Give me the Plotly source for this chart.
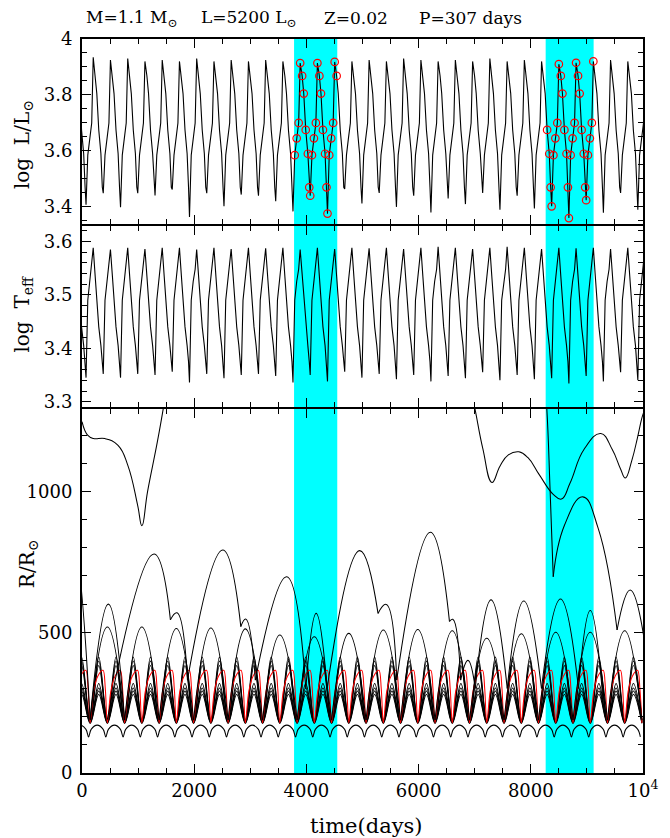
import plotly.graph_objects as go

# ---------------- data ----------------
# times (days) of the luminosity maxima (P = 307 d), incl. one before t=0 and one after 10^4
peak_times = [-107, 200, 507, 815, 1122, 1430, 1737, 2044, 2352, 2659, 2967, 3274, 3581,
              3889, 4196, 4504, 4811, 5118, 5426, 5733, 6041, 6348, 6655, 6963, 7270,
              7578, 7885, 8192, 8500, 8807, 9115, 9422, 9729, 10036]
logL_peak = [3.92, 3.935, 3.925, 3.93, 3.92, 3.925, 3.92, 3.93, 3.92, 3.925, 3.92, 3.925,
             3.92, 3.914, 3.914, 3.918, 3.92, 3.925, 3.92, 3.93, 3.925, 3.92, 3.925, 3.92,
             3.93, 3.92, 3.925, 3.92, 3.91, 3.915, 3.92, 3.925, 3.92, 3.92]
logL_min = [3.42, 3.408, 3.449, 3.399, 3.449, 3.441, 3.462, 3.364, 3.449, 3.402, 3.444,
            3.44, 3.42, 3.384, 3.44, 3.376, 3.464, 3.412, 3.45, 3.40, 3.44, 3.38, 3.43,
            3.41, 3.45, 3.39, 3.44, 3.394, 3.402, 3.36, 3.424, 3.379, 3.45, 3.39]
teff_peak = [3.585, 3.588, 3.585, 3.588, 3.586, 3.588, 3.588, 3.585, 3.588, 3.586, 3.588,
             3.587, 3.588, 3.585, 3.588, 3.586, 3.588, 3.587, 3.588, 3.586, 3.588, 3.59,
             3.588, 3.586, 3.588, 3.59, 3.588, 3.586, 3.588, 3.587, 3.588, 3.586, 3.588, 3.588]
teff_min = [3.35, 3.345, 3.352, 3.345, 3.352, 3.35, 3.356, 3.336, 3.352, 3.344, 3.35,
            3.352, 3.348, 3.336, 3.35, 3.338, 3.356, 3.345, 3.352, 3.342, 3.35, 3.338,
            3.348, 3.344, 3.355, 3.34, 3.35, 3.342, 3.344, 3.334, 3.348, 3.338, 3.355, 3.34]
# sampled points within one cycle, days relative to the maximum (None -> min / peak value)
cycle_dt = [-128, -97, -62, -27, 0, 35, 64, 99, 137, 162]
logL_shape = [None, 3.585, 3.645, 3.70, None, 3.868, 3.805, 3.675, 3.59, 3.47]
teff_shape = [None, 3.49, 3.525, 3.548, None, 3.535, 3.49, 3.44, 3.405, 3.375]

cyan_bands = [(3780, 4550), (8265, 9120)]

# radius of mass shells (R/Rsun)
bundle_min_shift = -55
bundle_peak_R = [280, 291, 302, 318, 382, 398, 412]
bundle_min_R = [176, 178, 180, 182, 184, 186, 188]
red_phase = [0, 0.2, 0.45, 0.75, 0.88]
red_R = [178, 290, 345, 365, 300]
lowest_min_shift = -83
lowest_phase = [0, 0.15, 0.5, 0.85]
lowest_R = [128, 155, 170, 155]
c520_peak = [519, 519, 513, 515, 512, 490, 484, 496, 508, 510, 505, 479, 495, 500, 500, 505]
c520_min = 188
c600_t = [-469, -162, 145, 470, 759]
c600_R = [190, 830, 190, 600, 190]
big_t = [452, 1284, 1576, 1693, 1880, 2510, 2831, 2919, 3090, 3649, 3990, 4174, 4370,
         4950, 5277, 5424, 5610, 6211, 6550, 6610, 6750, 6880, 7010, 7291, 7580, 7875,
         8190, 8529, 8850, 9060, 9290]
big_R = [190, 778, 544, 569, 330, 792, 520, 547, 330, 697, 300, 567, 300,
         790, 567, 599, 330, 855, 538, 546, 330, 400, 300, 615, 300, 611,
         300, 618, 300, 577, 250]
top1a_t = [0, 100, 204, 409, 642, 817, 992, 1068, 1168, 1343, 1448, 1490]
top1a_R = [1248, 1200, 1188, 1188, 1164, 1093, 951, 878, 999, 1176, 1294, 1350]
top1b_t = [6930, 7000, 7145, 7308, 7450, 7600, 7788, 7950, 8150, 8400, 8546, 8700, 8950,
           9247, 9450, 9600, 9685, 9800, 9900, 9977, 10010]
top1b_R = [1360, 1298, 1152, 1032, 1090, 1130, 1141, 1120, 1060, 990, 973, 1030, 1150,
           1206, 1150, 1080, 1048, 1110, 1190, 1259, 1280]
top2_t = [8240, 8284, 8345, 8400, None, 8400, 8600, 8926, 9200, 9538, None, 9538, 9772, 10010]
top2_R = [1400, 1298, 1000, 697, None, 697, 880, 981, 870, 508, None, 508, 650, 490]

# ---------------- build series ----------------
def build_cycles(shape, peaks, mins):
    t, v = [], []
    for tp, pk, mn in zip(peak_times, peaks, mins):
        for dt, s in zip(cycle_dt, shape):
            t.append(tp + dt)
            v.append(mn if dt == -128 else (pk if dt == 0 else s))
    return t, v

tL, vL = build_cycles(logL_shape, logL_peak, logL_min)
tT, vT = build_cycles(teff_shape, teff_peak, teff_min)
circ_t = [t for t in tL if any(a <= t <= b for a, b in cyan_bands)]
circ_v = [v for t, v in zip(tL, vL) if any(a <= t <= b for a, b in cyan_bands)]


def arcs_from_knots(kt, kv):
    xs, ys = [], []
    for i in range(0, len(kt) - 2, 2):
        xs += [kt[i], kt[i + 1], kt[i + 2], None]
        ys += [kv[i], kv[i + 1], kv[i + 2], None]
    return xs, ys


def periodic_wave(starts, phases, values):
    """continuous curve through the same per-cycle points of every cycle"""
    xs, ys = [], []
    for a, b in zip(starts[:-1], starts[1:]):
        for p, v in zip(phases, values):
            xs.append(a + p * (b - a))
            ys.append(v)
    xs.append(starts[-1])
    ys.append(values[0])
    return xs, ys


bundle_mins = [t + bundle_min_shift for t in peak_times]
lowest_mins = [t + lowest_min_shift for t in peak_times]

fig = go.Figure()
LW = 1.05

# panel 1 : log L
fig.add_trace(go.Scatter(x=tL, y=vL, mode='lines', line=dict(color='black', width=1.1),
                         xaxis='x3', yaxis='y3', showlegend=False))
fig.add_trace(go.Scatter(x=circ_t, y=circ_v, mode='markers',
                         marker=dict(symbol='circle-open', size=7.5, color='red', line=dict(width=1.2)),
                         xaxis='x3', yaxis='y3', showlegend=False))
# panel 2 : log Teff
fig.add_trace(go.Scatter(x=tT, y=vT, mode='lines', line=dict(color='black', width=1.1),
                         xaxis='x2', yaxis='y2', showlegend=False))

# panel 3 : radii
def add_r(x, y, color='black', smooth=1.3):
    fig.add_trace(go.Scatter(x=x, y=y, mode='lines', connectgaps=False,
                             line=dict(color=color, width=LW, shape='spline', smoothing=smooth),
                             xaxis='x', yaxis='y', showlegend=False))

x, y = periodic_wave(lowest_mins, lowest_phase, lowest_R)
add_r(x, y, smooth=1.0)
for pk, mn in zip(bundle_peak_R, bundle_min_R):
    x, y = periodic_wave(bundle_mins, [0, 0.5], [mn, pk])
    add_r(x, y, smooth=1.0)
x, y = periodic_wave(bundle_mins, red_phase, red_R)
add_r(x, y, 'red', smooth=0.9)
kt, kv = [], []
for i, pk in enumerate(c520_peak):
    if i == 0:
        kt.append(bundle_mins[1]); kv.append(c520_min)
    kt += [bundle_mins[2 + 2 * i], bundle_mins[3 + 2 * i]]
    kv += [pk, c520_min]
x, y = arcs_from_knots(kt, kv)
add_r(x, y)
x, y = arcs_from_knots(c600_t, c600_R)
add_r(x, y)
x, y = arcs_from_knots(big_t, big_R)
add_r(x, y)
add_r(top1a_t, top1a_R)
add_r(top1b_t, top1b_R)
add_r(top2_t, top2_R)

# ---------------- layout ----------------
FONT = 'DejaVu Serif'
tickfont = dict(family=FONT, size=18, color='black')
base = dict(showline=True, linecolor='black', linewidth=2, mirror='allticks',
            ticks='inside', ticklen=9, tickwidth=1.3, tickcolor='black',
            showgrid=False, zeroline=False, tickfont=tickfont)

def minor(d):
    return dict(ticks='inside', ticklen=5, tickwidth=1, tickcolor='black', dtick=d, showgrid=False)

xcommon = dict(base, range=[0, 10000], tickmode='array',
               tickvals=[0, 2000, 4000, 6000, 8000, 10000],
               ticktext=['0', '2000', '4000', '6000', '8000', '10<sup>4</sup>'],
               minor=dict(minor(500), tickmode='linear', tick0=0))

shapes = []
for a, b in cyan_bands:
    shapes.append(dict(type='rect', xref='x', yref='paper', x0=a, x1=b, y0=0, y1=1,
                       fillcolor='#00FFFF', line=dict(width=0), layer='below'))

def ann(text, x, y, size, angle=0, xanchor='center'):
    return dict(text=text, x=x, y=y, xref='paper', yref='paper', showarrow=False,
                textangle=angle, xanchor=xanchor, yanchor='middle',
                font=dict(family=FONT, size=size, color='black'))

annotations = [
    ann('M=1.1 M<sub>⊙</sub>', 0.0035, 1.0286, 17, xanchor='left'),
    ann('L=5200 L<sub>⊙</sub>', 0.208, 1.0286, 17, xanchor='left'),
    ann('Z=0.02', 0.4285, 1.0286, 17, xanchor='left'),
    ann('P=307 days', 0.5972, 1.0286, 17, xanchor='left'),
    ann('log  L/L<sub>⊙</sub>', -0.105, 0.8556, 20, angle=-90),
    ann('log  T<sub>eff</sub>', -0.105, 0.6247, 20, angle=-90),
    ann('R/R<sub>⊙</sub>', -0.096, 0.2847, 20, angle=-90),
    ann('time(days)', 0.5078, -0.0722, 21),
]

GAP = 2.0 / 734  # so that adjacent panel frame lines coincide
fig.update_layout(
    width=670, height=838,
    margin=dict(l=82, r=17, t=39, b=65),
    paper_bgcolor='white', plot_bgcolor='white',
    showlegend=False,
    xaxis=dict(xcommon, anchor='y'),
    xaxis2=dict(xcommon, anchor='y2', matches='x', showticklabels=False),
    xaxis3=dict(xcommon, anchor='y3', matches='x', showticklabels=False),
    yaxis=dict(base, domain=[0, 0.4986 - GAP], range=[0, 1293], dtick=500, tick0=0,
               minor=minor(100), ticklabelstandoff=4),
    yaxis2=dict(base, domain=[0.4986, 0.748 - GAP], range=[3.29, 3.629], dtick=0.1, tick0=3.0,
                minor=minor(0.02), ticklabelstandoff=4),
    yaxis3=dict(base, domain=[0.748, 1.0], range=[3.339, 4.0], dtick=0.2, tick0=3.0,
                minor=minor(0.05), ticklabelstandoff=4),
    shapes=shapes,
    annotations=annotations,
)

fig.write_html('out.html')
